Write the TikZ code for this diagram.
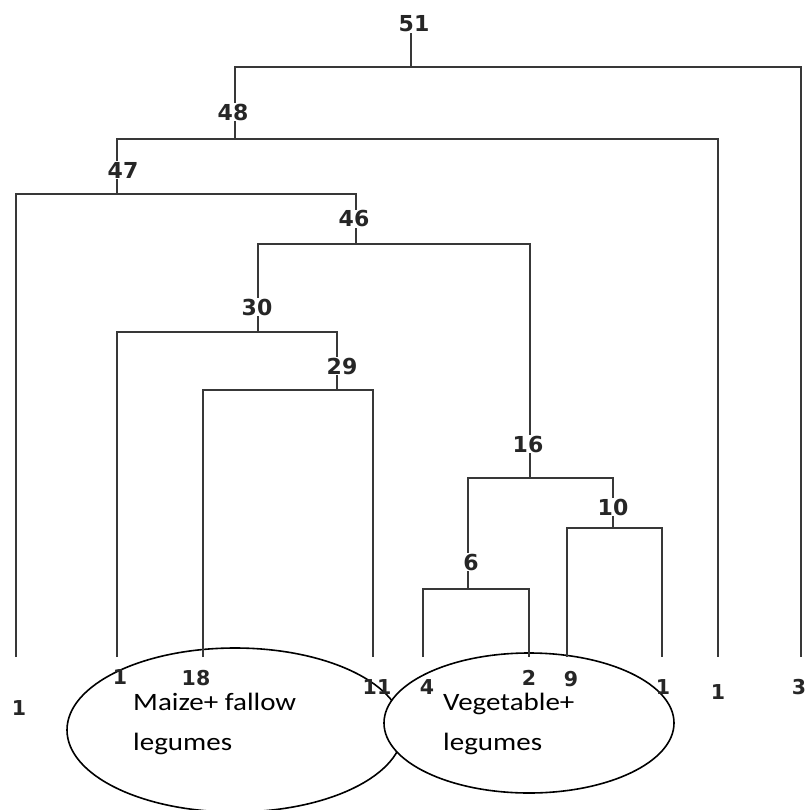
\documentclass[tikz,border=0pt]{standalone}
\usepackage{fontspec}
\setmainfont{Carlito}
\newfontfamily\numfont{DejaVu Sans}
\usetikzlibrary{calc}
\begin{document}
\begin{tikzpicture}[x=1pt,y=-1pt,
  branch/.style={draw=black!78,line width=1.6pt},
  joinlabel/.style={font=\numfont\bfseries\fontsize{22}{24}\selectfont,fill=white,inner sep=0.5pt,text=black!85},
  leaflabel/.style={font=\numfont\bfseries\fontsize{20.5}{22}\selectfont,inner sep=0pt,text=black!85},
  group/.style={draw=black,line width=1.6pt},
  grouptext/.style={font=\fontsize{25}{30}\selectfont,anchor=base west,inner sep=0pt,xscale=1.16}]
\useasboundingbox (0,0) rectangle (806,810);

% junction points (height of each merge)
\coordinate (p51) at (411,67);
\coordinate (p48) at (235,139);
\coordinate (p47) at (117,194);
\coordinate (p46) at (356,244);
\coordinate (p30) at (258,332);
\coordinate (p29) at (337,390);
\coordinate (p16) at (530,478);
\coordinate (p10) at (613,528);
\coordinate (p6)  at (468,589);

% leaf ends
\coordinate (l1)  at (16,657);
\coordinate (l2)  at (117,657);
\coordinate (l3)  at (203,657);
\coordinate (l4)  at (373,657);
\coordinate (l5)  at (423,657);
\coordinate (l6)  at (529,657);
\coordinate (l7)  at (567,657);
\coordinate (l8)  at (662,657);
\coordinate (l9)  at (718,657);
\coordinate (l10) at (801,657);

% group outlines
\draw[group] (235,730) ellipse [x radius=168, y radius=82];
\draw[group,fill=white] (529,723) ellipse [x radius=145, y radius=70];

% merges
\draw[branch] (p48) |- (p51) -| (l10);
\draw[branch] (p47) |- (p48) -| (l9);
\draw[branch] (l1) |- (p47) -| (p46);
\draw[branch] (p30) |- (p46) -| (p16);
\draw[branch] (l2) |- (p30) -| (p29);
\draw[branch] (l3) |- (p29) -| (l4);
\draw[branch] (p6) |- (p16) -| (p10);
\draw[branch] (l5) |- (p6) -| (l6);
\draw[branch] (l7) |- (p10) -| (l8);

% merge labels
\node[joinlabel] (t51) at (414,24) {51};
\draw[branch] (p51) -- (p51 |- t51.south);
\node[joinlabel] (t48) at (233,112) {48};
\node[joinlabel] (t47) at (123,170) {47};
\node[joinlabel] (t46) at (354,219) {46};
\node[joinlabel] (t30) at (257,307) {30};
\node[joinlabel] (t29) at (342,366) {29};
\node[joinlabel] (t16) at (528,444) {16};
\node[joinlabel] (t10) at (613,507) {10};
\node[joinlabel] (t6)  at (471,562) {6};

% leaf labels
\node[leaflabel] (n1)  at (19,708)  {1};
\node[leaflabel] (n2)  at (120,677) {1};
\node[leaflabel] (n3)  at (196,678) {18};
\node[leaflabel] (n4)  at (377,687) {11};
\node[leaflabel] (n5)  at (427,687) {4};
\node[leaflabel] (n6)  at (529,678) {2};
\node[leaflabel] (n7)  at (571,679) {9};
\node[leaflabel] (n8)  at (663,687) {1};
\node[leaflabel] (n9)  at (718,692) {1};
\node[leaflabel] (n10) at (799,687) {3};

% group names
\node[grouptext] (g1a) at (133,710) {Maize+ fallow};
\node[grouptext] (g1b) at (133,750) {legumes};
\node[grouptext] (g2a) at (443,710) {Vegetable+};
\node[grouptext] (g2b) at (443,750) {legumes};
\end{tikzpicture}
\end{document}
